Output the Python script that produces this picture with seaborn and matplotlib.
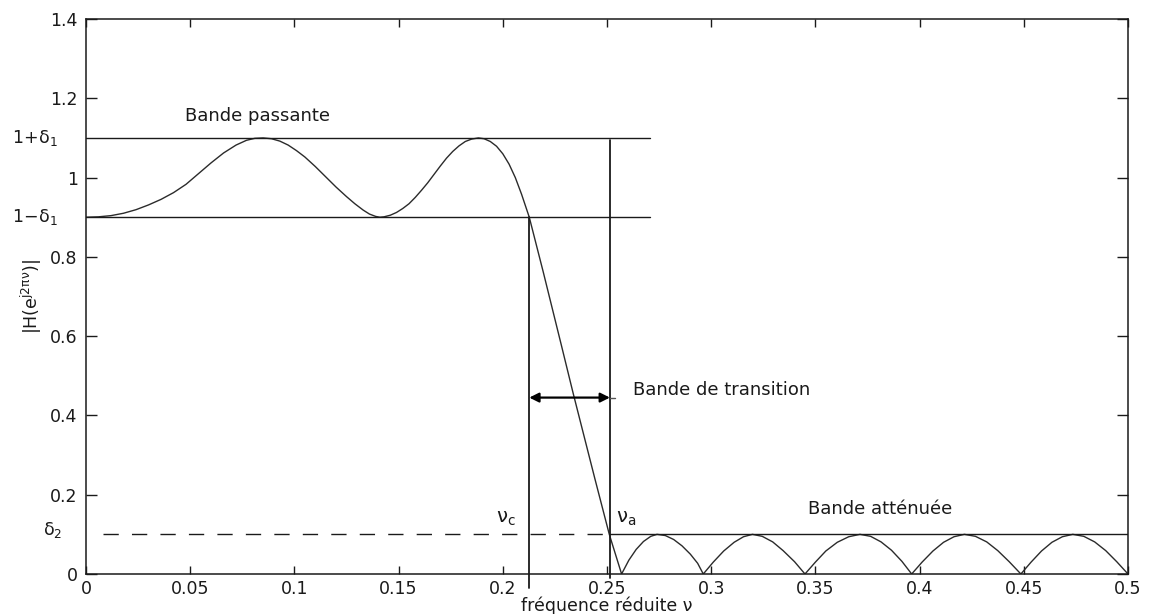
import numpy as np
import pandas as pd
import matplotlib
matplotlib.use("Agg")
import matplotlib.pyplot as plt
import seaborn as sns

# ---- data ----
freq = [0.000, 0.006, 0.012, 0.018, 0.024, 0.030, 0.036, 0.042, 0.048, 0.054,
        0.060, 0.066, 0.072, 0.077, 0.081, 0.085, 0.089, 0.093, 0.097, 0.101,
        0.105, 0.110, 0.115, 0.120, 0.125, 0.129, 0.133, 0.136, 0.139, 0.141,
        0.143, 0.146, 0.149, 0.152, 0.155, 0.158, 0.161, 0.164, 0.167, 0.170,
        0.173, 0.176, 0.179, 0.182, 0.185, 0.1883, 0.191, 0.194, 0.197, 0.200,
        0.203, 0.206, 0.209, 0.2127,
        0.2194, 0.2282, 0.2338, 0.2442, 0.2511, 0.2570,
        0.2605, 0.2640, 0.2675, 0.2710, 0.2740, 0.2780, 0.2820, 0.2860, 0.2900, 0.2935, 0.2962,
        0.3010, 0.3060, 0.3110, 0.3155, 0.3198, 0.3245, 0.3295, 0.3345, 0.3400, 0.3450,
        0.3500, 0.3550, 0.3605, 0.3660, 0.3714, 0.3765, 0.3815, 0.3865, 0.3915, 0.3962,
        0.4012, 0.4064, 0.4115, 0.4165, 0.4215, 0.4268, 0.4322, 0.4375, 0.4430, 0.4486,
        0.4535, 0.4585, 0.4635, 0.4685, 0.4735, 0.4788, 0.4840, 0.4893, 0.4946, 0.5000]
gain = [0.900, 0.901, 0.904, 0.910, 0.919, 0.931, 0.945, 0.962, 0.983, 1.010,
        1.037, 1.062, 1.082, 1.094, 1.099, 1.100, 1.098, 1.092, 1.082, 1.068,
        1.052, 1.028, 1.002, 0.976, 0.952, 0.934, 0.918, 0.908, 0.902, 0.900,
        0.901, 0.905, 0.912, 0.922, 0.934, 0.950, 0.968, 0.987, 1.008, 1.029,
        1.049, 1.066, 1.080, 1.091, 1.097, 1.100, 1.098, 1.091, 1.079, 1.060,
        1.034, 1.000, 0.958, 0.900,
        0.762, 0.575, 0.455, 0.240, 0.100, 0.000,
        0.035, 0.062, 0.082, 0.095, 0.100, 0.097, 0.087, 0.071, 0.050, 0.027, 0.000,
        0.030, 0.058, 0.080, 0.094, 0.100, 0.095, 0.081, 0.059, 0.031, 0.000,
        0.030, 0.058, 0.080, 0.094, 0.100, 0.095, 0.081, 0.060, 0.032, 0.000,
        0.030, 0.058, 0.080, 0.094, 0.100, 0.095, 0.081, 0.059, 0.031, 0.000,
        0.030, 0.058, 0.080, 0.094, 0.100, 0.095, 0.081, 0.059, 0.031, 0.000]

delta1 = 0.1
delta2 = 0.1
nu_c = 0.2127
nu_a = 0.2514
band_line_end = 0.2706
arrow_y = 0.445

x_ticks = [0, 0.05, 0.1, 0.15, 0.2, 0.25, 0.3, 0.35, 0.4, 0.45, 0.5]
x_tick_labels = ["0", "0.05", "0.1", "0.15", "0.2", "0.25", "0.3", "0.35", "0.4", "0.45", "0.5"]
y_ticks = [0, 0.2, 0.4, 0.6, 0.8, 1.0, 1.2, 1.4]
y_tick_labels = ["0", "0.2", "0.4", "0.6", "0.8", "1", "1.2", "1.4"]

# ---- style ----
sns.set_style("ticks")
plt.rcParams['font.family'] = ['DejaVu Sans']
plt.rcParams['mathtext.fontset'] = 'dejavusans'

ink = "#1a1a1a"

fig = plt.figure(figsize=(11.51, 6.14), dpi=100)
ax = fig.add_axes([86 / 1151, 40 / 614, (1128 - 86) / 1151, (574 - 19) / 614])

df = pd.DataFrame({"nu": freq, "H": gain})
sns.lineplot(data=df, x="nu", y="H", ax=ax, color="#2b2b2b", linewidth=1.0,
             sort=False, estimator=None)

# tolerance lines
ax.plot([0, band_line_end], [1 + delta1, 1 + delta1], color=ink, lw=1.0)
ax.plot([0, band_line_end], [1 - delta1, 1 - delta1], color=ink, lw=1.0)
ax.plot([0.008, nu_a], [delta2, delta2], color=ink, lw=1.0, dashes=(11, 9.5))
ax.plot([nu_a, 0.5], [delta2, delta2], color=ink, lw=1.0)
ax.plot([nu_c, nu_c], [-0.035, 1 - delta1], color=ink, lw=1.3, clip_on=False)
ax.plot([nu_a, nu_a], [-0.01, 1 + delta1 - 0.004], color=ink, lw=1.3, clip_on=False)

# transition arrow
ax.annotate("", xy=(nu_a, arrow_y), xytext=(nu_c, arrow_y),
            arrowprops=dict(arrowstyle="<|-|>", color="black", lw=1.6,
                            mutation_scale=14, shrinkA=0, shrinkB=0))
ax.plot([nu_a, nu_a + 0.0025], [arrow_y, arrow_y], color="#555555", lw=1.0)

fs = 13
tfs = 12.5
ax.text(0.0475, 1.155, "Bande passante", fontsize=fs, color=ink, ha="left", va="center")
ax.text(0.2625, 0.464, "Bande de transition", fontsize=fs, color=ink, ha="left", va="center")
ax.text(0.3465, 0.164, "Bande atténuée", fontsize=fs, color=ink, ha="left", va="center")
ax.text(0.1965, 0.115, r"$\mathregular{\nu_c}$", fontsize=fs + 1, color=ink, ha="left", va="bottom")
ax.text(0.2545, 0.115, r"$\mathregular{\nu_a}$", fontsize=fs + 1, color=ink, ha="left", va="bottom")

# symbolic y labels
ax.text(-0.0135, 1 + delta1, r"$\mathregular{1\!+\!\delta_1}$", fontsize=tfs, color=ink,
        ha="right", va="center", clip_on=False)
ax.text(-0.0135, 1 - delta1, r"$\mathregular{1\!-\!\delta_1}$", fontsize=tfs, color=ink,
        ha="right", va="center", clip_on=False)
ax.text(-0.0115, delta2 + 0.012, r"$\mathregular{\delta_2}$", fontsize=tfs, color=ink,
        ha="right", va="center", clip_on=False)

ax.set_xlim(0, 0.5)
ax.set_ylim(0, 1.4)
ax.set_xticks(x_ticks)
ax.set_xticklabels(x_tick_labels)
ax.set_yticks(y_ticks)
ax.set_yticklabels(y_tick_labels)
ax.tick_params(axis="x", direction="in", length=6, width=1.0, top=True, bottom=True,
               labelsize=tfs, colors=ink, pad=4)
ax.tick_params(axis="y", direction="in", length=8, width=1.0, left=True, right=True,
               labelsize=tfs, colors=ink, pad=6)
for s in ax.spines.values():
    s.set_visible(True)
    s.set_linewidth(1.1)
    s.set_color(ink)

ax.set_xlabel("fréquence réduite ν", fontsize=tfs, color=ink, labelpad=-1)
ax.set_ylabel(r"$\mathregular{|H(e^{j2\pi\nu})|}$", fontsize=tfs, color=ink, labelpad=4)

fig.savefig("out.png", dpi=100, facecolor="white")
